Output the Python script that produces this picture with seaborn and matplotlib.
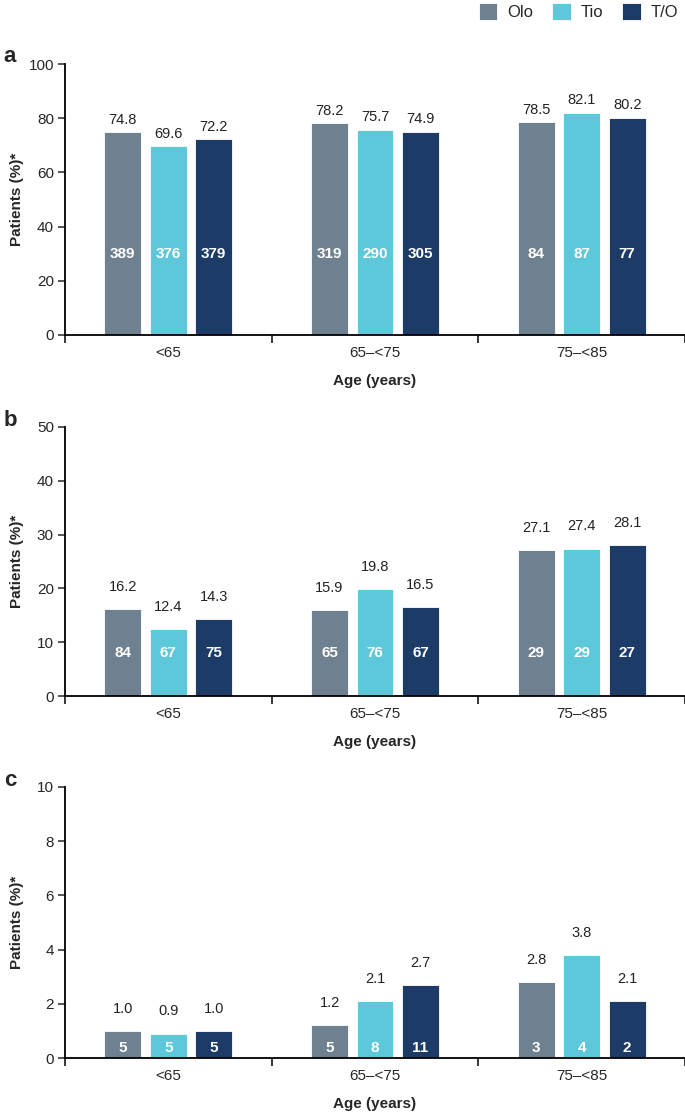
import numpy as np
import pandas as pd
import matplotlib
matplotlib.use("Agg")
import matplotlib.pyplot as plt
import seaborn as sns

# age groups and treatments
ages = ["<65", "65\u2013<75", "75\u2013<85"]
treatments = ["Olo", "Tio", "T/O"]
colors = ["#6F8190", "#5EC8DB", "#1C3B66"]

# panel a
a_olo = [74.8, 78.2, 78.5]
a_tio = [69.6, 75.7, 82.1]
a_to = [72.2, 74.9, 80.2]
a_n_olo = [389, 319, 84]
a_n_tio = [376, 290, 87]
a_n_to = [379, 305, 77]

# panel b
b_olo = [16.2, 15.9, 27.1]
b_tio = [12.4, 19.8, 27.4]
b_to = [14.3, 16.5, 28.1]
b_n_olo = [84, 65, 29]
b_n_tio = [67, 76, 29]
b_n_to = [75, 67, 27]

# panel c
c_olo = [1.0, 1.2, 2.8]
c_tio = [0.9, 2.1, 3.8]
c_to = [1.0, 2.7, 2.1]
c_n_olo = [5, 5, 3]
c_n_tio = [5, 8, 4]
c_n_to = [5, 11, 2]


def make_df(olo, tio, to, n_olo, n_tio, n_to):
    rows = []
    for t, vals, ns in zip(treatments, [olo, tio, to], [n_olo, n_tio, n_to]):
        for age, v, n in zip(ages, vals, ns):
            rows.append({"age": age, "treatment": t, "pct": v, "n": n})
    return pd.DataFrame(rows)


panels = [
    ("a", make_df(a_olo, a_tio, a_to, a_n_olo, a_n_tio, a_n_to), 100, 20, 30, 4),
    ("b", make_df(b_olo, b_tio, b_to, b_n_olo, b_n_tio, b_n_to), 50, 10, 8, 11),
    ("c", make_df(c_olo, c_tio, c_to, c_n_olo, c_n_tio, c_n_to), 10, 2, 0.37, 11),
]

sns.set_style("ticks")
plt.rcParams["font.family"] = ["Liberation Sans", "DejaVu Sans"]

fig = plt.figure(figsize=(6.85, 11.13), dpi=100)
W, H = 685, 1113
tops = [64, 427, 787]
bottoms = [335, 696, 1058]
left_px = 65

for (letter, df, ymax, ystep, n_y, pad), top, bot in zip(panels, tops, bottoms):
    ax = fig.add_axes([left_px / W, 1 - bot / H, 1 - left_px / W, (bot - top) / H])
    sns.barplot(data=df, x="age", y="pct", hue="treatment", order=ages,
                hue_order=treatments, palette=colors, saturation=1,
                width=0.66, gap=0.19, edgecolor="white", linewidth=0.6, ax=ax)

    for i, cont in enumerate(ax.containers):
        sub = df[df["treatment"] == treatments[i]].set_index("age").loc[ages]
        ax.bar_label(cont, labels=[f"{v:.1f}" for v in sub["pct"]],
                     padding=pad, fontsize=10.5, color="#222222")
        for bar, n in zip(cont, sub["n"]):
            ax.text(bar.get_x() + bar.get_width() / 2, n_y, str(n),
                    ha="center", va="center", color="white",
                    fontweight="bold", fontsize=11)

    ax.set_xlim(-0.5, 2.5)
    ax.set_ylim(0, ymax)
    ax.set_yticks(np.arange(0, ymax + 0.1, ystep))
    ax.set_xticks([-0.5, 0.5, 1.5, 2.5], minor=True)
    ax.tick_params(axis="x", which="major", length=0, pad=8, labelsize=11)
    ax.tick_params(axis="x", which="minor", length=6, width=1.3, direction="out")
    ax.tick_params(axis="y", length=5, width=1.1, pad=3, labelsize=11)
    for s in ["top", "right"]:
        ax.spines[s].set_visible(False)
    for s in ["left", "bottom"]:
        ax.spines[s].set_linewidth(1.3)
        ax.spines[s].set_color("black")

    ax.set_xlabel("Age (years)", fontsize=11, fontweight="bold", labelpad=10)
    ax.set_ylabel("Patients (%)*", fontsize=11, fontweight="bold")
    ax.yaxis.set_label_coords(-0.066, 0.5)

    if letter == "a":
        handles, labels = ax.get_legend_handles_labels()
    ax.get_legend().remove()

    fig.text(10 / W, 1 - (top - 7) / H, letter, fontsize=16, fontweight="bold",
             ha="center", va="center")

fig.legend(handles, labels, loc="upper right", bbox_to_anchor=(1.0, 1.003),
           ncol=3, frameon=False, fontsize=12, handlelength=1.1,
           handleheight=1.15, handletextpad=0.6, columnspacing=1.15,
           borderpad=0.2, borderaxespad=0.2)

fig.savefig("out.png", dpi=100)
